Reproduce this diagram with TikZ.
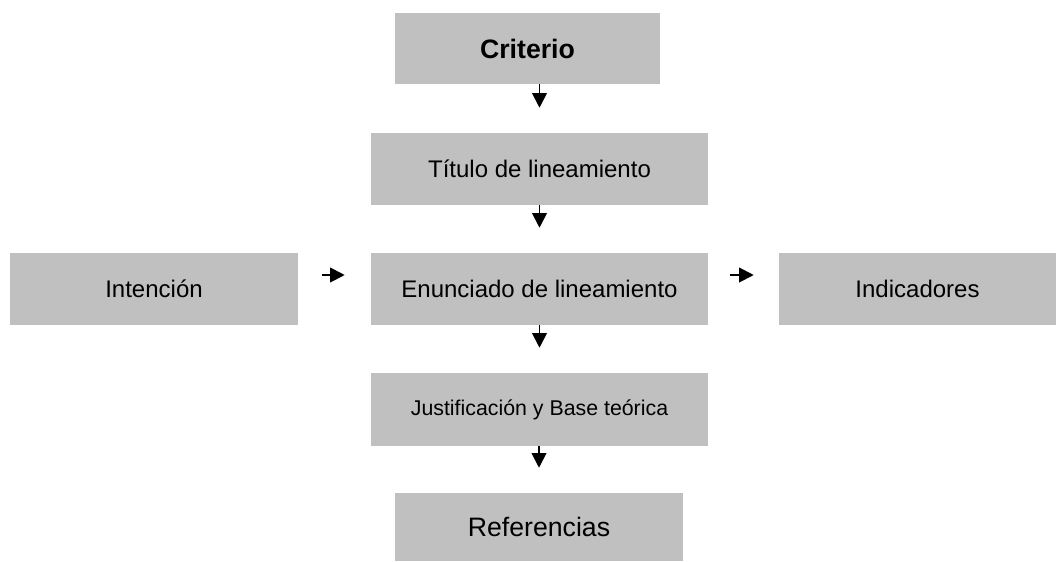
\documentclass[tikz,border=0pt]{standalone}
\usepackage{fontspec}
\setmainfont{Liberation Sans}
\usetikzlibrary{arrows.meta}
\definecolor{boxgray}{HTML}{C0C0C0}
\begin{document}
\begin{tikzpicture}[x=0.75pt,y=-0.75pt,
  box/.style={fill=boxgray, draw=none, inner sep=0pt, anchor=center, font=\fontsize{18pt}{21pt}\selectfont},
  arr/.style={line width=1.4pt, -{Triangle[length=11pt,width=11pt]}}]
\useasboundingbox (0,0) rectangle (1056,561);
\node[box, minimum width=198.75pt, minimum height=53.25pt, font=\fontsize{20pt}{24pt}\selectfont\bfseries] (crit) at (527.5,48.5) {Criterio};
\node[box, minimum width=252.75pt, minimum height=54pt] (tit) at (539.5,169) {Título de lineamiento};
\node[box, minimum width=252.75pt, minimum height=54pt] (enun) at (539.5,289) {Enunciado de lineamiento};
\node[box, minimum width=216pt, minimum height=54pt] (int) at (154,289) {Intención};
\node[box, minimum width=207.75pt, minimum height=54pt] (ind) at (917.5,289) {Indicadores};
\node[box, minimum width=252.75pt, minimum height=54.75pt, font=\fontsize{16pt}{19pt}\selectfont] (just) at (539.5,409.5) {Justificación y Base teórica};
\node[box, minimum width=216pt, minimum height=51pt, font=\fontsize{20pt}{24pt}\selectfont] (ref) at (539,527) {Referencias};
\draw[arr, shorten >=18.75pt] (crit.south -| tit.north) -- (tit.north);
\draw[arr, shorten >=18.75pt] (tit.south) -- (enun.north);
\draw[arr, shorten >=18.75pt] (enun.south) -- (just.north);
\draw[arr, shorten >=18.75pt] (just.south -| ref.north) -- (ref.north);
\draw[arr, shorten <=18pt, shorten >=19.5pt] ([yshift=10.5pt]int.east) -- ([yshift=10.5pt]enun.west);
\draw[arr, shorten <=16.5pt, shorten >=18.75pt] ([yshift=10.5pt]enun.east) -- ([yshift=10.5pt]ind.west);
\end{tikzpicture}
\end{document}
